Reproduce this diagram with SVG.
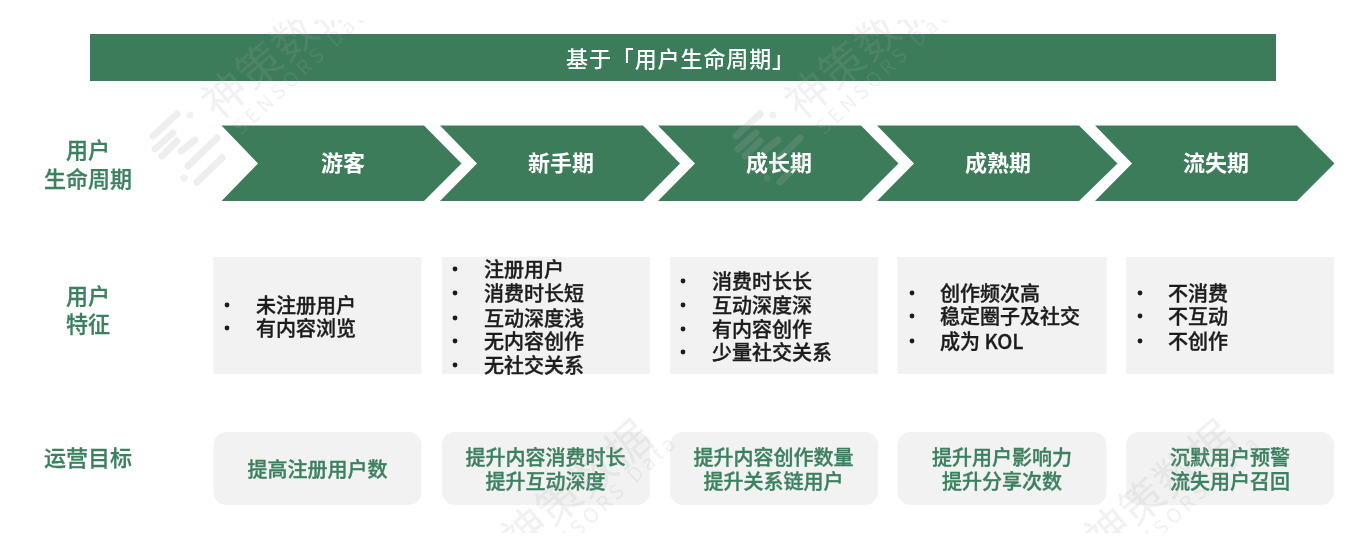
<svg xmlns="http://www.w3.org/2000/svg" width="1356" height="540" viewBox="0 0 1356 540">
<style>
text{font-family:"Noto Sans CJK SC","Noto Sans",sans-serif}
.bar{fill:#3c7c5a}
.title{fill:#fff;font-size:22px;font-weight:500;letter-spacing:.9px}
.side{fill:#3c8060;stroke:#3c8060;stroke-width:.3px;font-size:22px;font-weight:500;text-anchor:middle}
.stage{fill:#fff;font-size:22px;font-weight:700;text-anchor:middle}
.box{fill:#f2f2f2}
.item{fill:#1c1c1c;stroke:#1c1c1c;stroke-width:.35px;font-size:20px;font-weight:500}
.dot{fill:#1c1c1c}
.goal{fill:#3c8060;stroke:#3c8060;stroke-width:.35px;font-size:20px;font-weight:500;text-anchor:middle}
.wm{fill:#aaa;fill-opacity:.16}
.wm1{font-size:44px;font-weight:400;letter-spacing:1px}
.wm2{font-size:20px;letter-spacing:4.4px}
.wl{stroke:#aaa;stroke-opacity:.2;stroke-width:7;stroke-linecap:round;fill:none}
</style>
<defs>
<clipPath id="wmclip"><rect x="0" y="20" width="1356" height="513"/></clipPath>
<filter id="soft" x="0" y="0" width="100%" height="100%"><feGaussianBlur stdDeviation="0.5"/></filter>
<g id="wmark">
<text class="wm wm1" transform="translate(218,121) rotate(-40)">神策数据</text>
<text class="wm wm2" transform="translate(241,136) rotate(-43)">SENSORS Data</text>
<path class="wl" d="M153,136L177,114M155,149L173,133M162,156L177,141M181,151L195,140M188,166L217,138M197,182L222,158"/>
<circle class="wm" cx="190" cy="115" r="3.500"/>
<circle class="wm" cx="184" cy="178" r="3.500"/>
</g>
</defs>
<g id="diagram" filter="url(#soft)">
<g id="header"><rect class="bar" x="90" y="34" width="1186" height="47"/><text class="title" x="566" y="67">基于「用户生命周期」</text></g>

<g id="label-lifecycle"><text class="side" x="88" y="158">用户</text><text class="side" x="88" y="187">生命周期</text></g>
<g id="label-traits"><text class="side" x="88" y="304">用户</text><text class="side" x="88" y="332">特征</text></g>
<g id="label-goals"><text class="side" x="88" y="466">运营目标</text></g>

<g id="stage-visitor"><polygon class="bar" points="221.500,125.500 424,125.500 461.500,163.500 424,201 221.500,201 258,163.500"/><text class="stage" x="343" y="171">游客</text></g>
<g id="stage-novice"><polygon class="bar" points="440,125.500 643,125.500 680,163.500 643,201 440,201 477,163.500"/><text class="stage" x="561" y="171">新手期</text></g>
<g id="stage-growth"><polygon class="bar" points="658,125.500 861,125.500 898.500,163.500 861,201 658,201 695,163.500"/><text class="stage" x="779" y="171">成长期</text></g>
<g id="stage-mature"><polygon class="bar" points="877,125.500 1079,125.500 1117.500,163.500 1079,201 877,201 914,163.500"/><text class="stage" x="998" y="171">成熟期</text></g>
<g id="stage-churn"><polygon class="bar" points="1095,125.500 1297,125.500 1334.500,163.500 1297,201 1095,201 1132,163.500"/><text class="stage" x="1216" y="171">流失期</text></g>

<g id="traits-visitor"><rect class="box" x="213.500" y="257" width="208" height="117"/>
<circle class="dot" cx="227" cy="305" r="2.400"/><text class="item" x="256" y="313">未注册用户</text>
<circle class="dot" cx="227" cy="328" r="2.400"/><text class="item" x="256" y="336">有内容浏览</text></g>
<g id="traits-novice"><rect class="box" x="442" y="257" width="208" height="117"/>
<circle class="dot" cx="455" cy="269" r="2.400"/><text class="item" x="484" y="277">注册用户</text>
<circle class="dot" cx="455" cy="293" r="2.400"/><text class="item" x="484" y="301">消费时长短</text>
<circle class="dot" cx="455" cy="318" r="2.400"/><text class="item" x="484" y="326">互动深度浅</text>
<circle class="dot" cx="455" cy="341" r="2.400"/><text class="item" x="484" y="349">无内容创作</text>
<circle class="dot" cx="455" cy="365" r="2.400"/><text class="item" x="484" y="373">无社交关系</text></g>
<g id="traits-growth"><rect class="box" x="670" y="257" width="208" height="117"/>
<circle class="dot" cx="683" cy="281" r="2.400"/><text class="item" x="712" y="289">消费时长长</text>
<circle class="dot" cx="683" cy="305" r="2.400"/><text class="item" x="712" y="313">互动深度深</text>
<circle class="dot" cx="683" cy="329" r="2.400"/><text class="item" x="712" y="337">有内容创作</text>
<circle class="dot" cx="683" cy="352" r="2.400"/><text class="item" x="712" y="360">少量社交关系</text></g>
<g id="traits-mature"><rect class="box" x="897.500" y="257" width="209" height="117"/>
<circle class="dot" cx="912" cy="293" r="2.400"/><text class="item" x="940" y="301">创作频次高</text>
<circle class="dot" cx="912" cy="316" r="2.400"/><text class="item" x="940" y="324">稳定圈子及社交</text>
<circle class="dot" cx="912" cy="341" r="2.400"/><text class="item" x="940" y="349">成为 KOL</text></g>
<g id="traits-churn"><rect class="box" x="1126" y="257" width="208" height="117"/>
<circle class="dot" cx="1140" cy="293" r="2.400"/><text class="item" x="1168" y="301">不消费</text>
<circle class="dot" cx="1140" cy="316" r="2.400"/><text class="item" x="1168" y="324">不互动</text>
<circle class="dot" cx="1140" cy="341" r="2.400"/><text class="item" x="1168" y="349">不创作</text></g>

<g id="goal-visitor"><rect class="box" x="213.500" y="432" width="208" height="73" rx="13"/><text class="goal" x="317.500" y="477">提高注册用户数</text></g>
<g id="goal-novice"><rect class="box" x="442" y="432" width="208" height="73" rx="13"/><text class="goal" x="545.500" y="465">提升内容消费时长</text><text class="goal" x="545.500" y="489">提升互动深度</text></g>
<g id="goal-growth"><rect class="box" x="670" y="432" width="208" height="73" rx="13"/><text class="goal" x="773.500" y="465">提升内容创作数量</text><text class="goal" x="773.500" y="489">提升关系链用户</text></g>
<g id="goal-mature"><rect class="box" x="897.500" y="432" width="209" height="73" rx="13"/><text class="goal" x="1002" y="465">提升用户影响力</text><text class="goal" x="1002" y="489">提升分享次数</text></g>
<g id="goal-churn"><rect class="box" x="1126" y="432" width="208" height="73" rx="13"/><text class="goal" x="1230" y="465">沉默用户预警</text><text class="goal" x="1230" y="489">流失用户召回</text></g>

<g id="watermark" clip-path="url(#wmclip)">
<use href="#wmark"/>
<use href="#wmark" x="583"/>
<use href="#wmark" x="300" y="436"/>
<use href="#wmark" x="883" y="436"/>
</g>
</g>
</svg>
